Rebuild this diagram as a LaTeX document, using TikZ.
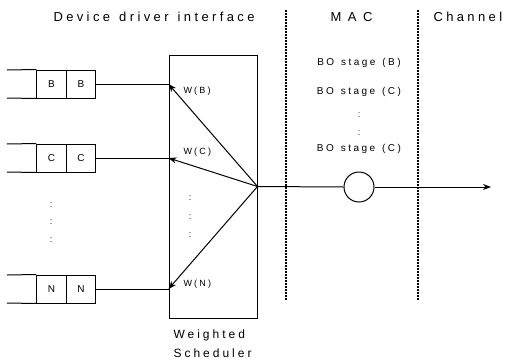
\documentclass[tikz,border=0pt]{standalone}
\usepackage{fontspec}
\setmainfont{Liberation Sans}
\newfontfamily\spfont[LetterSpace=25,WordSpace=1.3]{Liberation Sans}
\newfontfamily\hdfont[LetterSpace=26,WordSpace=1.3]{Liberation Sans}
\newfontfamily\macfont[LetterSpace=50]{Liberation Sans}
\usetikzlibrary{arrows.meta}
\begin{document}
\begin{tikzpicture}[x=1pt,y=-1pt,line width=1pt,
  cell/.style={draw,minimum width=29.5pt,minimum height=28pt,inner sep=0pt,font=\fontsize{10}{12}\selectfont},
  hdr/.style={anchor=west,inner sep=0pt,font=\fontsize{13}{15}\selectfont\hdfont},
  stage/.style={inner sep=0pt,font=\fontsize{10}{12}\selectfont\spfont},
  wlab/.style={anchor=west,inner sep=0pt,font=\fontsize{9}{11}\selectfont\spfont},
  vdots/.style={inner sep=0pt,font=\fontsize{9}{11}\selectfont},
  sep/.style={line width=1.3pt,dash pattern=on 1.5pt off 1.5pt},
  arr/.style={-{Stealth[length=8pt,width=6pt]}}]
\useasboundingbox (0,0) rectangle (506,362);
% headers
\node[hdr] (h1) at (53,17) {Device driver interface};
\node[hdr,font=\fontsize{13}{15}\selectfont\macfont] (h2) at (330,17) {MAC};
\node[hdr] (h3) at (433,17) {Channel};
% separators
\draw[sep] (286,10) -- (286,300);
\draw[sep] (418,10) -- (418,300);
% scheduler
\node[draw,minimum width=88pt,minimum height=263pt,inner sep=0pt] (sch) at (213,186.5) {};
\coordinate (hub) at (sch.east);
\node[anchor=west,inner sep=0pt,font=\fontsize{12}{14}\selectfont\spfont] (wt) at (173,335) {Weighted};
\node[anchor=west,inner sep=0pt,font=\fontsize{12}{14}\selectfont\spfont] (sc) at (173,353) {Scheduler};
% queues
\foreach \n/\y/\l in {b/84/B,c/158/C,n/289/N}{
  \node[cell] (\n1) at (51.5,\y) {\l};
  \node[cell] (\n2) at (81,\y) {\l};
  \coordinate (\n0t) at (7,\y-14);
  \coordinate (\n0b) at (7,\y+14);
  \draw (\n0t) -- (\n1.north west);
  \draw (\n0b) -- (\n1.south west);
  \coordinate (\n in) at (sch.west |- \n2.east);
  \draw (\n2.east) -- (\n in);
  \draw[arr] (hub) -- (\n in);
}
\node[wlab] (wb) at (183,91.5) {W(B)};
\node[wlab] (wc) at (183,152) {W(C)};
\node[wlab] (wn) at (183,284) {W(N)};
% dots
\node[vdots] (d1) at (190,198) {:};
\node[vdots] (d2) at (190,217) {:};
\node[vdots] (d3) at (190,235) {:};
\node[vdots] (e1) at (51,205) {:};
\node[vdots] (e2) at (51,222) {:};
\node[vdots] (e3) at (51,240) {:};
% MAC stages
\node[stage] (s1) at (359,63) {BO stage (B)};
\node[stage] (s2) at (359,92) {BO stage (C)};
\node[vdots] (f1) at (359,115) {:};
\node[vdots] (f2) at (359,133) {:};
\node[stage] (s3) at (359,149) {BO stage (C)};
% output
\node[draw,circle,minimum size=30pt,inner sep=0pt] (circ) at (359,187) {};
\coordinate (out) at (491,187);
\draw (hub) -- (circ.west);
\draw[arr] (circ.east) -- (out);
\end{tikzpicture}
\end{document}
